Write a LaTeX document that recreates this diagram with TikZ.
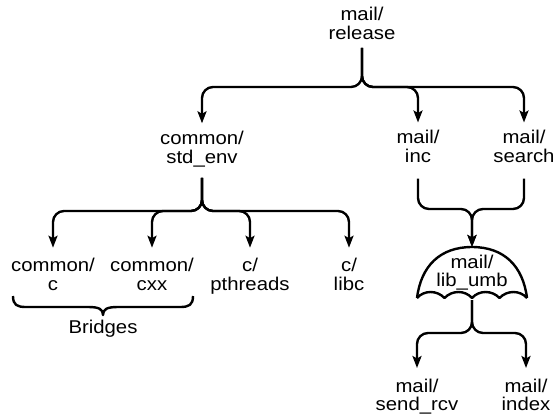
\documentclass[tikz,border=0pt]{standalone}
\usepackage{fontspec}
\setmainfont{Liberation Sans}[FakeStretch=1.1]
\usetikzlibrary{arrows.meta}
\tikzset{
 lbl/.style={anchor=north, align=center, inner sep=0pt, font=\fontsize{18.5}{18.5}\selectfont},
 plain/.style={line width=2.4pt, rounded corners=11pt, line join=round},
 conn/.style={plain, -{Stealth[length=12pt,width=9pt,inset=2.5pt]}},
}
\newcommand{\fl}{\rule{0pt}{15pt}}
\begin{document}
\begin{tikzpicture}[x=1pt,y=-1pt]
\useasboundingbox (0,0) rectangle (556,416);
% labels
\node[lbl] (rel)  at (362,5.7)   {\fl mail/\\release};
\node[lbl] (std)  at (202,129.3) {\fl common/\\std\_env};
\node[lbl] (inc)  at (418,128.5) {\fl mail/\\inc};
\node[lbl] (srch) at (524,128.5) {\fl mail/\\search};
\node[lbl] (cc)   at (53,256.7)  {\fl common/\\c};
\node[lbl] (cxx)  at (152,256.7) {\fl common/\\cxx};
\node[lbl] (pth)  at (250,256.7) {\fl c/\\pthreads};
\node[lbl] (libc) at (349,256.7) {\fl c/\\libc};
\node[lbl] (umb)  at (472,253)   {\fl mail/\\lib\_umb};
\node[lbl] (send) at (417,377)   {\fl mail/\\send\_rcv};
\node[lbl] (idx)  at (526,377)   {\fl mail/\\index};
\node[lbl] (br)   at (103,318)   {\fl Bridges};
% junctions
\coordinate (j1) at (362,87);
\coordinate (j2) at (202,211);
\coordinate (j3) at (472,209);
\coordinate (umbtop) at (472,247);
\coordinate (umbbot) at (472,300);
\coordinate (j4) at (472,333);
% top level
\draw[conn] ([yshift=-8pt]rel.south) -- (j1) -- (j1 -| std) -- ([yshift=6pt]std.north);
\draw[conn] ([yshift=-8pt]rel.south) -- (j1) -- (j1 -| inc) -- ([yshift=6pt]inc.north);
\draw[conn] ([yshift=-8pt]rel.south) -- (j1) -- (j1 -| srch) -- ([yshift=6pt]srch.north);
% std_env children
\draw[conn] ([yshift=-11pt]std.south) -- (j2) -- (j2 -| cc) -- ([yshift=9pt]cc.north);
\draw[conn] ([yshift=-11pt]std.south) -- (j2) -- (j2 -| cxx) -- ([yshift=9pt]cxx.north);
\draw[conn] ([yshift=-11pt]std.south) -- (j2) -- (j2 -| pth) -- ([yshift=9pt]pth.north);
\draw[conn] ([yshift=-11pt]std.south) -- (j2) -- (j2 -| libc) -- ([yshift=9pt]libc.north);
% merge into umbrella
\draw[conn] ([yshift=-16pt]inc.south) -- (j3 -| inc) -- (j3) -- (umbtop);
\draw[conn] ([yshift=-16pt]srch.south) -- (j3 -| srch) -- (j3) -- (umbtop);
% umbrella
\draw[plain, rounded corners=0pt] (417,298) .. controls (421,266) and (440,247) .. (umbtop)
  .. controls (504,247) and (523,266) .. (527,298);
\draw[plain, rounded corners=0pt] (417,298)
  .. controls (424,290) and (437,290) .. (444.5,298)
  .. controls (452,290) and (465,290) .. (472,298)
  .. controls (479,290) and (492,290) .. (499.5,298)
  .. controls (507,290) and (520,290) .. (527,298);
% umbrella children
\draw[conn] (umbbot) -- (j4) -- (j4 -| send) -- ([yshift=9pt]send.north);
\draw[conn] (umbbot) -- (j4) -- (j4 -| idx) -- ([yshift=9pt]idx.north);
% brace
\draw[plain, rounded corners=0pt] (13,296) .. controls (13,305) and (17,307) .. (26,307) -- (88,307)
  .. controls (99,307) and (103,309) .. (103,315)
  .. controls (103,309) and (107,307) .. (118,307) -- (180,307)
  .. controls (189,307) and (193,305) .. (193,296);
\end{tikzpicture}
\end{document}
